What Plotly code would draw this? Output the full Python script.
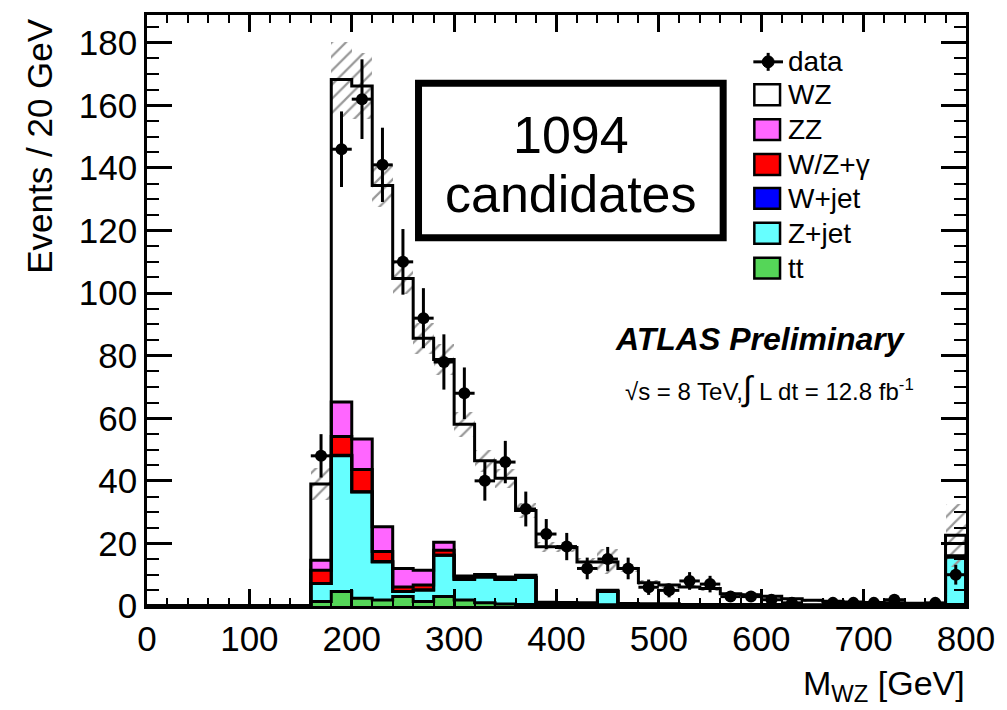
import numpy as np
import plotly.graph_objects as go

# ---- binning: 20 GeV bins, the first filled bin starts at 160 GeV ----
bin_width = 20
x_min, x_max = 0, 800
first_bin = 160
bin_lows = list(range(first_bin, x_max, bin_width))  # 160 ... 780 (last bin holds overflow)

# ---- observed events per bin ----
data_counts = [48, 146, 162, 141, 110, 92, 78, 68, 40, 46, 31, 23, 19, 12, 15, 12,
               6, 5, 8, 7, 3, 3, 2, 1, 0, 1, 1, 1, 2, 0, 1, 10]

# ---- expected contributions per bin (stacked bottom to top) ----
ttbar = [1.4, 4.6, 2.5, 1.9, 3.0, 1.4, 3.0, 1.9, 1.0, 0.6, 0.5, 0.3, 0.3, 0.3, 0.4, 0.2,
         0.2, 0.2, 0.1, 0.1, 0.1, 0.1, 0.1, 0.1, 0.1, 0.1, 0.1, 0.1, 0.1, 0.1, 0.1, 0.5]
z_jet = [5.8, 43.4, 33.9, 12.2, 1.6, 3.7, 13.2, 6.6, 8.3, 7.9, 8.6, 0.3, 0.3, 0.3, 4.2, 0.2,
         0.2, 0.2, 0.1, 0.1, 0.1, 0.1, 0.1, 0.1, 0.1, 0.1, 0.1, 0.1, 0.1, 0.1, 0.1, 15.2]
w_jet = [0.0, 0.2, 0.1, 0.1, 0.0, 0.0, 0.0, 0.0, 0.0, 0.0, 0.0, 0.0, 0.0, 0.0, 0.0, 0.0,
         0.0, 0.0, 0.0, 0.0, 0.0, 0.0, 0.0, 0.0, 0.0, 0.0, 0.0, 0.0, 0.0, 0.0, 0.0, 0.0]
wz_gamma = [4.2, 6.0, 7.1, 3.2, 1.5, 1.6, 1.6, 0.3, 0.3, 0.3, 0.2, 0.2, 0.1, 0.1, 0.1, 0.1,
            0.1, 0.1, 0.1, 0.1, 0.1, 0.1, 0.1, 0.0, 0.0, 0.0, 0.0, 0.0, 0.0, 0.0, 0.0, 0.1]
zz = [3.2, 11.0, 9.8, 7.9, 5.9, 4.7, 2.6, 0.8, 0.5, 0.5, 0.5, 0.4, 0.4, 0.3, 0.3, 0.3,
      0.2, 0.2, 0.2, 0.2, 0.2, 0.2, 0.2, 0.1, 0.1, 0.1, 0.1, 0.1, 0.1, 0.1, 0.1, 0.3]
wz = [24.4, 103.1, 112.8, 109.1, 92.7, 74.2, 58.4, 48.5, 36.3, 31.5, 20.7, 17.7, 17.6, 13.1, 9.1, 11.2,
      6.7, 6.0, 5.6, 5.1, 3.4, 3.1, 2.6, 2.0, 1.5, 1.2, 1.0, 0.8, 0.7, 0.6, 0.5, 6.5]

# ---- total systematic+statistical uncertainty on the expectation ----
total_unc = [5, 12, 10.5, 7, 5, 5, 5, 4, 3.5, 3, 2.5, 1.5, 1.5, 1.2, 4, 1,
             0.8, 0.8, 0.7, 0.7, 0.5, 0.5, 0.5, 0.4, 0.4, 0.3, 0.3, 0.3, 0.3, 0.3, 0.3, 10]

# ---- styling ----
FONT = "Liberation Sans, Arial, Helvetica, sans-serif"
colors = {
    "WZ": "#ffffff",
    "ZZ": "#ff66ff",
    "W/Z+γ": "#ff0000",
    "W+jet": "#0000ff",
    "Z+jet": "#66ffff",
    "tt": "#55d658",
}
y_top = 188.9

# ---- cumulative stack levels ----
n_empty = (first_bin - x_min) // bin_width
pad = np.zeros(n_empty)
components = [("tt", ttbar), ("Z+jet", z_jet), ("W+jet", w_jet),
              ("W/Z+γ", wz_gamma), ("ZZ", zz), ("WZ", wz)]
levels = []
running = np.zeros(len(bin_lows))
for name, vals in components:
    running = running + np.array(vals, dtype=float)
    levels.append((name, running.copy()))
total = levels[-1][1]

centers = np.array(bin_lows) + bin_width / 2
edges = np.arange(x_min, x_max + bin_width, bin_width)

fig = go.Figure()

# filled stack: tallest cumulative first so lower components sit on top of it
for name, lev in reversed(levels):
    fig.add_trace(go.Bar(
        x=centers, y=lev, width=bin_width,
        marker=dict(color=colors[name], line=dict(width=0)),
        opacity=1, showlegend=False, hoverinfo="skip",
    ))

# black step outline of every cumulative level
for name, lev in levels:
    full = np.concatenate([pad, lev])
    xs = list(edges) + [x_max]
    ys = list(full) + [full[-1], 0.0]
    fig.add_trace(go.Scatter(
        x=xs, y=ys, mode="lines", line=dict(color="black", width=3, shape="hv"),
        showlegend=False, hoverinfo="skip",
    ))

# hatched uncertainty band around the total expectation
unc = np.array(total_unc, dtype=float)
fig.add_trace(go.Bar(
    x=centers, y=2 * unc, base=total - unc, width=bin_width,
    marker=dict(color="rgba(0,0,0,0)", line=dict(width=0),
                pattern=dict(shape="/", fgcolor="#999999", bgcolor="rgba(0,0,0,0)",
                             size=10, solidity=0.22, fillmode="replace")),
    opacity=1, showlegend=False, hoverinfo="skip",
))

# observed data with Poisson errors
d = np.array(data_counts, dtype=float)
mask = d > 0
fig.add_trace(go.Scatter(
    x=centers[mask], y=d[mask], mode="markers",
    marker=dict(color="black", size=12, symbol="circle"),
    error_y=dict(type="data", array=np.sqrt(d[mask]), color="black", thickness=3, width=0),
    error_x=dict(type="constant", value=bin_width / 2, color="black", thickness=3, width=0),
    showlegend=False, hoverinfo="skip",
))

# ---- layout helpers (pixel position -> paper fraction) ----
L, R, T, B = 147, 32, 13, 104
W, H = 1007, 710
pw, ph = W - L - R, H - T - B


def px(xpix):
    return (xpix - L) / pw


def py(ypix):
    return (H - B - ypix) / ph


shapes = []
annotations = []

# number-of-candidates box
shapes.append(dict(type="rect", xref="paper", yref="paper",
                   x0=px(421.5), x1=px(729.5), y0=py(236.5), y1=py(81.5),
                   line=dict(color="black", width=7), fillcolor="rgba(0,0,0,0)"))
annotations.append(dict(text="1094", xref="paper", yref="paper", x=px(575.5), y=py(133),
                        xanchor="center", yanchor="middle", showarrow=False,
                        font=dict(family=FONT, size=52, color="black")))
annotations.append(dict(text="candidates", xref="paper", yref="paper", x=px(575.5), y=py(193),
                        xanchor="center", yanchor="middle", showarrow=False,
                        font=dict(family=FONT, size=52, color="black")))

# experiment label
annotations.append(dict(text="<b><i>ATLAS Preliminary</i></b>", xref="paper", yref="paper",
                        x=px(767.5), y=py(338), xanchor="center", yanchor="middle",
                        showarrow=False, font=dict(family=FONT, size=32, color="black")))
annotations.append(dict(text="√s = 8 TeV,<span style=\"font-size:34px\">∫</span> L dt = 12.8 fb<sup>-1</sup>",
                        xref="paper", yref="paper",
                        x=px(776), y=py(388), xanchor="center", yanchor="middle",
                        showarrow=False, font=dict(family=FONT, size=24, color="black")))

# legend
leg_x0, leg_x1, leg_text = 761, 787, 793
row_data = 60
shapes.append(dict(type="line", xref="paper", yref="paper", x0=px(760), x1=px(790),
                   y0=py(row_data), y1=py(row_data), line=dict(color="black", width=3)))
shapes.append(dict(type="line", xref="paper", yref="paper", x0=px(775), x1=px(775),
                   y0=py(row_data - 9), y1=py(row_data + 9), line=dict(color="black", width=3)))
shapes.append(dict(type="circle", xref="paper", yref="paper", x0=px(769), x1=px(781),
                   y0=py(row_data + 6), y1=py(row_data - 6),
                   line=dict(color="black", width=1), fillcolor="black"))
annotations.append(dict(text="data", xref="paper", yref="paper", x=px(leg_text), y=py(row_data),
                        xanchor="left", yanchor="middle", showarrow=False,
                        font=dict(family=FONT, size=28, color="black")))
legend_rows = [("WZ", 93), ("ZZ", 128), ("W/Z+γ", 163), ("W+jet", 197), ("Z+jet", 232), ("tt", 267)]
for name, row in legend_rows:
    shapes.append(dict(type="rect", xref="paper", yref="paper",
                       x0=px(leg_x0), x1=px(leg_x1), y0=py(row + 10.5), y1=py(row - 10.5),
                       line=dict(color="black", width=2.5), fillcolor=colors[name]))
    annotations.append(dict(text=name, xref="paper", yref="paper", x=px(leg_text), y=py(row),
                            xanchor="left", yanchor="middle", showarrow=False,
                            font=dict(family=FONT, size=28, color="black")))

# axis titles
annotations.append(dict(text="Events / 20 GeV", xref="paper", yref="paper", x=px(38), y=py(144),
                        xanchor="center", yanchor="middle", textangle=-90, showarrow=False,
                        font=dict(family=FONT, size=35, color="black")))
annotations.append(dict(text="M<sub>WZ</sub> [GeV]", xref="paper", yref="paper", x=px(976), y=py(686),
                        xanchor="right", yanchor="middle", showarrow=False,
                        font=dict(family=FONT, size=34, color="black")))

fig.update_layout(
    width=W, height=H,
    margin=dict(l=L, r=R, t=T, b=B),
    paper_bgcolor="white", plot_bgcolor="white",
    barmode="overlay", bargap=0,
    showlegend=False,
    font=dict(family=FONT, size=34, color="black"),
    shapes=shapes, annotations=annotations,
)
fig.update_xaxes(
    range=[x_min, x_max], tickmode="array", tickvals=list(range(0, 801, 100)),
    ticks="inside", ticklen=17, tickwidth=2.5, tickcolor="black",
    showline=True, linewidth=2.5, linecolor="black", mirror="ticks",
    showgrid=False, zeroline=False,
    minor=dict(dtick=20, ticks="inside", ticklen=8, tickwidth=2, tickcolor="black", showgrid=False),
    tickfont=dict(family=FONT, size=35, color="black"),
)
fig.update_yaxes(
    range=[0, y_top], tickmode="array", tickvals=list(range(0, 181, 20)),
    ticks="inside", ticklen=25, tickwidth=2.5, tickcolor="black",
    showline=True, linewidth=2.5, linecolor="black", mirror="ticks",
    showgrid=False, zeroline=False,
    minor=dict(dtick=5, ticks="inside", ticklen=12, tickwidth=2, tickcolor="black", showgrid=False),
    tickfont=dict(family=FONT, size=35, color="black"),
)

fig.write_html("out.html")
